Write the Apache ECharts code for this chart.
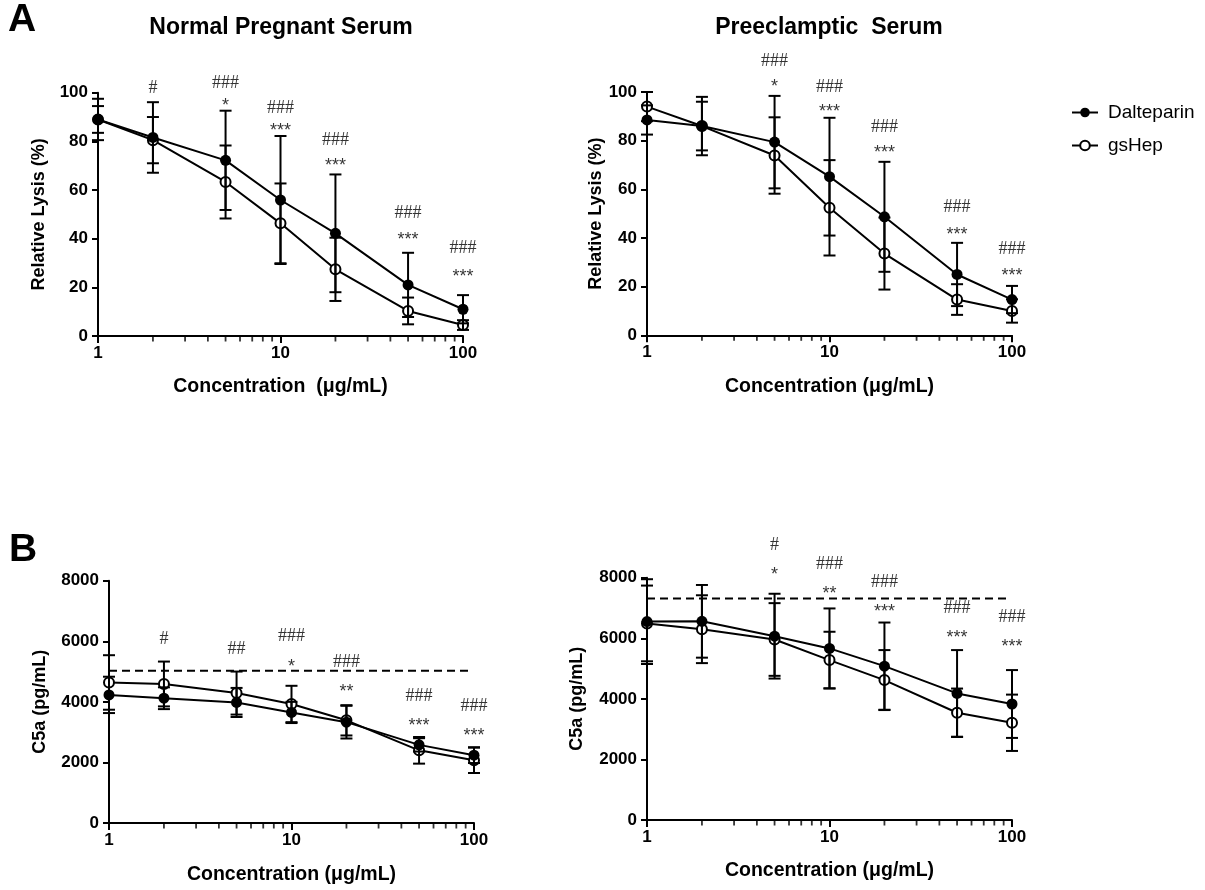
<!DOCTYPE html>
<html>
<head>
<meta charset="utf-8">
<script src="https://cdn.jsdelivr.net/npm/echarts@6/dist/echarts.min.js"></script>
<style>
  html, body { margin: 0; padding: 0; background: #fff; }
  #chart { width: 1205px; height: 890px; }
</style>
</head>
<body>
<div id="chart"></div>
<script>
// ---------------- DATA ----------------
const concentrations = [1, 2, 5, 10, 20, 50, 100];
const minorTickValues = [2, 3, 4, 5, 6, 7, 8, 9, 20, 30, 40, 50, 60, 70, 80, 90];

// A: Relative lysis (%), Normal Pregnant Serum
const lysisNormalDalteparin    = [89, 81.6, 72.2, 55.9, 42.2, 21.0, 11.0];
const lysisNormalDalteparinErr = [8.5, 14.5, 20.4, 26.3, 24.2, 13.2, 5.8];
const lysisNormalGsHep         = [89, 80.5, 63.3, 46.3, 27.4, 10.3, 4.5];
const lysisNormalGsHepErr      = [5.5, 9.5, 15, 16.4, 13, 5.5, 2];

// A: Relative lysis (%), Preeclamptic Serum
const lysisPEDalteparin    = [88.5, 86, 79.4, 65.2, 48.7, 25.0, 14.7];
const lysisPEDalteparinErr = [6, 12, 19, 24.2, 22.6, 13, 5.6];
const lysisPEGsHep         = [94, 86, 73.9, 52.4, 33.6, 14.7, 10.0];
const lysisPEGsHepErr      = [6, 10, 15.7, 19.6, 14.8, 6.3, 4.8];

// B: C5a (pg/mL), Normal Pregnant Serum
const c5aNormalDalteparin    = [4230, 4120, 3980, 3650, 3330, 2580, 2240];
const c5aNormalDalteparinErr = [600, 360, 480, 350, 540, 220, 260];
const c5aNormalGsHep         = [4640, 4590, 4290, 3930, 3390, 2400, 2070];
const c5aNormalGsHepErr      = [900, 740, 710, 600, 500, 440, 420];
const c5aNormalReference     = 5030;

// B: C5a (pg/mL), Preeclamptic Serum
const c5aPEDalteparin    = [6550, 6560, 6070, 5665, 5080, 4180, 3830];
const c5aPEDalteparinErr = [1400, 1200, 1400, 1320, 1440, 1430, 1120];
const c5aPEGsHep         = [6490, 6300, 5960, 5280, 4620, 3540, 3210];
const c5aPEGsHepErr      = [1250, 1120, 1200, 935, 990, 800, 930];
const c5aPEReference     = 7310;
const referenceLineEnd   = 93;

// significance annotations: [concentration, y position (data units), text]
const sigNormalLysis = [[2, 101.8, '#'], [5, 104, '###'], [5, 96.3, '*'], [10, 93.6, '###'], [10, 86, '***'],
  [20, 80.5, '###'], [20, 71.6, '***'], [50, 50.4, '###'], [50, 41.1, '***'], [100, 36, '###'], [100, 26, '***']];
const sigPELysis = [[5, 112.5, '###'], [5, 103.6, '*'], [10, 101.8, '###'], [10, 93.3, '***'], [20, 85.7, '###'],
  [20, 76.4, '***'], [50, 52.8, '###'], [50, 42.9, '***'], [100, 35.3, '###'], [100, 26.1, '***']];
const sigNormalC5a = [[2, 6066, '#'], [5, 5737, '##'], [10, 6154, '###'], [10, 5297, '*'], [20, 5297, '###'],
  [20, 4451, '**'], [50, 4176, '###'], [50, 3319, '***'], [100, 3846, '###'], [100, 2989, '***']];
const sigPEC5a = [[5, 9075, '#'], [5, 8228, '*'], [10, 8448, '###'], [10, 7590, '**'], [20, 7843, '###'],
  [20, 6985, '***'], [50, 6985, '###'], [50, 6138, '***'], [100, 6710, '###'], [100, 5830, '***']];

const panelTitles = ['Normal Pregnant Serum', 'Preeclamptic  Serum'];
const xAxisNames = ['Concentration  (\u03bcg/mL)', 'Concentration (\u03bcg/mL)', 'Concentration (\u03bcg/mL)', 'Concentration (\u03bcg/mL)'];
const yAxisNames = ['Relative Lysis (%)', 'Relative Lysis (%)', 'C5a (pg/mL)', 'C5a (pg/mL)'];
const seriesNames = ['Dalteparin', 'gsHep'];

// ---------------- CHART ----------------
const SANS = "'Liberation Sans', Arial, Helvetica, sans-serif";
const SERIF = "'Liberation Serif', 'Times New Roman', serif";

const panels = [
  { dalt: lysisNormalDalteparin, daltErr: lysisNormalDalteparinErr, gs: lysisNormalGsHep, gsErr: lysisNormalGsHepErr, sig: sigNormalLysis, ref: null, yMax: 100, yInt: 20 },
  { dalt: lysisPEDalteparin, daltErr: lysisPEDalteparinErr, gs: lysisPEGsHep, gsErr: lysisPEGsHepErr, sig: sigPELysis, ref: null, yMax: 100, yInt: 20 },
  { dalt: c5aNormalDalteparin, daltErr: c5aNormalDalteparinErr, gs: c5aNormalGsHep, gsErr: c5aNormalGsHepErr, sig: sigNormalC5a, ref: c5aNormalReference, yMax: 8000, yInt: 2000 },
  { dalt: c5aPEDalteparin, daltErr: c5aPEDalteparinErr, gs: c5aPEGsHep, gsErr: c5aPEGsHepErr, sig: sigPEC5a, ref: c5aPEReference, yMax: 8000, yInt: 2000 }
];

const grids = [
  { left: 98, top: 92.7, width: 365, height: 243.3 },
  { left: 647, top: 92, width: 365, height: 243.3 },
  { left: 109, top: 580.7, width: 365, height: 242.3 },
  { left: 647, top: 577.7, width: 365, height: 242.3 }
];
const xNameGaps = [41, 41, 42, 41];
const yNameGaps = [50, 42, 60, 61];

const axisLineStyle = { color: '#000', width: 2 };
const labelStyle = { color: '#000', fontFamily: SANS, fontWeight: 'bold', fontSize: 17 };
const xNameStyle = { color: '#000', fontFamily: SANS, fontWeight: 'bold', fontSize: 19.5 };
const yNameStyle = { color: '#000', fontFamily: SANS, fontWeight: 'bold', fontSize: 18 };

const xAxes = grids.map((g, i) => ({
  gridIndex: i, type: 'log', logBase: 10, min: 1, max: 100,
  name: xAxisNames[i], nameLocation: 'middle', nameGap: xNameGaps[i], nameTextStyle: xNameStyle,
  axisLine: { onZero: false, lineStyle: axisLineStyle },
  axisTick: { length: 7, lineStyle: { color: '#000', width: 2 } },
  axisLabel: { ...labelStyle, margin: 9, formatter: v => String(Math.round(v)) },
  splitLine: { show: false }
}));
const yAxes = grids.map((g, i) => ({
  gridIndex: i, type: 'value', min: 0, max: panels[i].yMax, interval: panels[i].yInt,
  name: yAxisNames[i], nameLocation: 'middle', nameGap: yNameGaps[i], nameTextStyle: yNameStyle,
  axisLine: { show: true, onZero: false, lineStyle: axisLineStyle },
  axisTick: { show: true, length: 6, lineStyle: { color: '#000', width: 2 } },
  axisLabel: { ...labelStyle, margin: 10, formatter: v => String(v) },
  splitLine: { show: false }
}));

function errorBarRender(params, api) {
  const x = api.value(0), y = api.value(1), e = api.value(2);
  const top = api.coord([x, y + e]);
  const bot = api.coord([x, y - e]);
  const cw = 6;
  const st = { stroke: '#000', lineWidth: 2 };
  return {
    type: 'group',
    children: [
      { type: 'line', shape: { x1: top[0], y1: top[1], x2: bot[0], y2: bot[1] }, style: st },
      { type: 'line', shape: { x1: top[0] - cw, y1: top[1], x2: top[0] + cw, y2: top[1] }, style: st },
      { type: 'line', shape: { x1: bot[0] - cw, y1: bot[1], x2: bot[0] + cw, y2: bot[1] }, style: st }
    ]
  };
}

const series = [];
panels.forEach((p, i) => {
  const common = { xAxisIndex: i, yAxisIndex: i };
  series.push({
    ...common, type: 'line', name: seriesNames[1], z: 3,
    data: concentrations.map((c, k) => [c, p.gs[k]]),
    symbol: 'circle', symbolSize: 10,
    itemStyle: { color: '#fff', borderColor: '#000', borderWidth: 2 },
    lineStyle: { color: '#000', width: 2 }
  });
  series.push({
    ...common, type: 'line', name: seriesNames[0], z: 3,
    data: concentrations.map((c, k) => [c, p.dalt[k]]),
    symbol: 'circle', symbolSize: 11,
    itemStyle: { color: '#000' },
    lineStyle: { color: '#000', width: 2 }
  });
  series.push({
    ...common, type: 'custom', name: 'errD' + i, z: 4, clip: false, silent: true,
    renderItem: errorBarRender, encode: { x: 0, y: 1 },
    data: concentrations.map((c, k) => [c, p.dalt[k], p.daltErr[k]])
  });
  series.push({
    ...common, type: 'custom', name: 'errG' + i, z: 4, clip: false, silent: true,
    renderItem: errorBarRender, encode: { x: 0, y: 1 },
    data: concentrations.map((c, k) => [c, p.gs[k], p.gsErr[k]])
  });
  series.push({
    ...common, type: 'scatter', name: 'sig' + i, z: 5, clip: false, silent: true,
    symbolSize: 1, itemStyle: { color: 'rgba(0,0,0,0)' },
    data: p.sig.map(s => ({
      value: [s[0], s[1]],
      label: {
        show: true, position: 'inside', formatter: s[2], color: '#000',
        fontFamily: s[2].indexOf('#') >= 0 ? SERIF : SANS,
        fontSize: 18,
        offset: s[2].indexOf('*') >= 0 ? [0, 4] : [0, 0]
      }
    }))
  });
  series.push({
    ...common, type: 'scatter', name: 'minor' + i, z: 2, clip: false, silent: true,
    symbol: 'rect', symbolSize: [1.8, 5], symbolOffset: [0, 3],
    itemStyle: { color: '#000' },
    data: minorTickValues.map(v => [v, 0])
  });
  if (p.ref !== null) {
    series.push({
      ...common, type: 'line', name: 'ref' + i, z: 2, silent: true,
      symbol: 'none',
      lineStyle: { color: '#000', width: 2, type: [8, 5] },
      data: [[1, p.ref], [referenceLineEnd, p.ref]]
    });
  }
});

const option = {
  animation: false,
  backgroundColor: '#fff',
  grid: grids,
  xAxis: xAxes,
  yAxis: yAxes,
  legend: {
    data: seriesNames, orient: 'vertical', left: 1066, top: 98,
    itemWidth: 26, itemHeight: 12, itemGap: 14,
    textStyle: { fontFamily: SANS, fontSize: 19, color: '#000', padding: [0, 0, 0, 5] }
  },
  graphic: [
    { type: 'text', x: 8, y: 20, style: { text: 'A', font: 'bold 39px ' + SANS, fill: '#000', textVerticalAlign: 'middle' } },
    { type: 'text', x: 9, y: 550, style: { text: 'B', font: 'bold 39px ' + SANS, fill: '#000', textVerticalAlign: 'middle' } },
    { type: 'text', x: 281, y: 28, style: { text: panelTitles[0], font: 'bold 23px ' + SANS, fill: '#000', textAlign: 'center', textVerticalAlign: 'middle' } },
    { type: 'text', x: 829, y: 28, style: { text: panelTitles[1], font: 'bold 23px ' + SANS, fill: '#000', textAlign: 'center', textVerticalAlign: 'middle' } }
  ],
  series: series
};

const chart = echarts.init(document.getElementById('chart'), null, { renderer: 'canvas' });
chart.setOption(option);
</script>
</body>
</html>
